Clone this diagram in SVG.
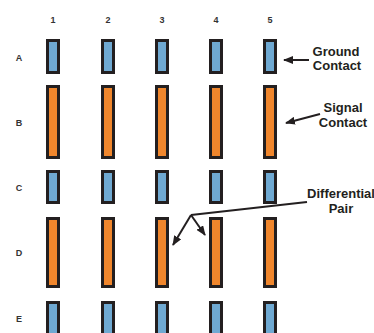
<svg xmlns="http://www.w3.org/2000/svg" width="374" height="333" viewBox="0 0 374 333">
<defs>
<style>
.g{fill:#6fa9d2;stroke:#231f20;stroke-width:3}
.s{fill:#f0862c;stroke:#231f20;stroke-width:3}
.lbl{font-family:"Liberation Sans",Arial,sans-serif;font-weight:bold;font-size:9px;fill:#333;text-anchor:middle}
.call{font-family:"Liberation Sans",Arial,sans-serif;font-weight:bold;font-size:13px;fill:#231f20;text-anchor:middle}
.ln{stroke:#231f20;stroke-width:2;fill:none}
</style>
<marker id="ah" viewBox="0 0 10 8" refX="9" refY="4" markerWidth="5" markerHeight="4" orient="auto" markerUnits="strokeWidth">
<path d="M0,0 L10,4 L0,8 Z" fill="#231f20"/>
</marker>
</defs>
<rect width="374" height="333" fill="#ffffff"/>
<g id="col-labels">
<text class="lbl" x="53" y="23">1</text>
<text class="lbl" x="108" y="23">2</text>
<text class="lbl" x="162" y="23">3</text>
<text class="lbl" x="216" y="23">4</text>
<text class="lbl" x="270" y="23">5</text>
</g>
<g id="row-labels">
<text class="lbl" x="19" y="61">A</text>
<text class="lbl" x="19" y="126">B</text>
<text class="lbl" x="19" y="191">C</text>
<text class="lbl" x="19" y="256">D</text>
<text class="lbl" x="19" y="322">E</text>
</g>
<g id="row-A">
<rect class="g" x="47.5" y="40.5" width="11" height="32"/>
<rect class="g" x="102.5" y="40.5" width="11" height="32"/>
<rect class="g" x="156.5" y="40.5" width="11" height="32"/>
<rect class="g" x="210.5" y="40.5" width="11" height="32"/>
<rect class="g" x="264.5" y="40.5" width="11" height="32"/>
</g>
<g id="row-B">
<rect class="s" x="47.5" y="86.5" width="11" height="71"/>
<rect class="s" x="102.5" y="86.5" width="11" height="71"/>
<rect class="s" x="156.5" y="86.5" width="11" height="71"/>
<rect class="s" x="210.5" y="86.5" width="11" height="71"/>
<rect class="s" x="264.5" y="86.5" width="11" height="71"/>
</g>
<g id="row-C">
<rect class="g" x="47.5" y="171.5" width="11" height="31"/>
<rect class="g" x="102.5" y="171.5" width="11" height="31"/>
<rect class="g" x="156.5" y="171.5" width="11" height="31"/>
<rect class="g" x="210.5" y="171.5" width="11" height="31"/>
<rect class="g" x="264.5" y="171.5" width="11" height="31"/>
</g>
<g id="row-D">
<rect class="s" x="47.5" y="218.5" width="11" height="68"/>
<rect class="s" x="102.5" y="218.5" width="11" height="68"/>
<rect class="s" x="156.5" y="218.5" width="11" height="68"/>
<rect class="s" x="210.5" y="218.5" width="11" height="68"/>
<rect class="s" x="264.5" y="218.5" width="11" height="68"/>
</g>
<g id="row-E">
<rect class="g" x="47.5" y="302.5" width="11" height="40"/>
<rect class="g" x="102.5" y="302.5" width="11" height="40"/>
<rect class="g" x="156.5" y="302.5" width="11" height="40"/>
<rect class="g" x="210.5" y="302.5" width="11" height="40"/>
<rect class="g" x="264.5" y="302.5" width="11" height="40"/>
</g>
<g id="ground-contact">
<text class="call" x="336" y="56">Ground</text>
<text class="call" x="337" y="70">Contact</text>
</g>
<g id="signal-contact">
<text class="call" x="343" y="112">Signal</text>
<text class="call" x="343" y="127">Contact</text>
</g>
<g id="differential-pair">
<text class="call" x="341" y="198">Differential</text>
<text class="call" x="341" y="213">Pair</text>
</g>
<g id="connectors">
<line class="ln" x1="309" y1="60" x2="284" y2="60" marker-end="url(#ah)"/>
<line class="ln" x1="320" y1="114" x2="286" y2="123" marker-end="url(#ah)"/>
<polyline class="ln" points="307,202 191,215"/>
<line class="ln" x1="191" y1="215" x2="173" y2="245" marker-end="url(#ah)"/>
<line class="ln" x1="191" y1="215" x2="205" y2="235" marker-end="url(#ah)"/>
</g>
</svg>
